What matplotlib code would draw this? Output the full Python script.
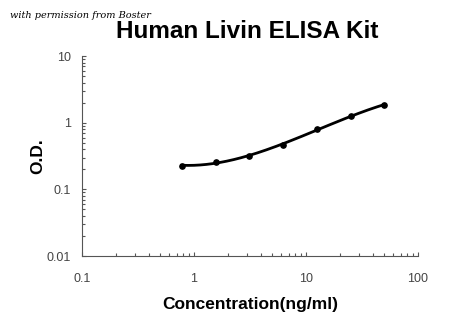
import numpy as np
import matplotlib
matplotlib.use("Agg")
import matplotlib.pyplot as plt
from matplotlib.ticker import LogLocator, FixedLocator, NullFormatter

conc = [0.78, 1.56, 3.125, 6.25, 12.5, 25, 50]
od = [0.226, 0.26, 0.317, 0.468, 0.796, 1.26, 1.86]
x_ticks = [0.1, 1, 10, 100]
x_labels = ["0.1", "1", "10", "100"]
y_ticks = [0.01, 0.1, 1, 10]
y_labels = ["0.01", "0.1", "1", "10"]

plt.rcParams['font.family'] = ['Liberation Sans', 'DejaVu Sans']

fig = plt.figure(figsize=(4.5, 3.3), dpi=100)
ax = fig.add_axes([0.182, 0.224, 0.747, 0.606])
ax.set_xscale('log')
ax.set_yscale('log')
ax.set_xlim(0.1, 100)
ax.set_ylim(0.01, 10)

# smooth fitted curve in log-log space
lx = np.log10(conc)
ly = np.log10(od)
coef = np.polyfit(lx, ly, 3)
xs = np.linspace(lx[0], lx[-1], 200)
ax.plot(10**xs, 10**np.polyval(coef, xs), color='black', lw=2.0)
ax.plot(conc, od, 'o', color='black', ms=3.8)

ax.spines['top'].set_visible(False)
ax.spines['right'].set_visible(False)
for s in ['left', 'bottom']:
    ax.spines[s].set_color('#555555')
    ax.spines[s].set_linewidth(0.8)

ax.xaxis.set_major_locator(FixedLocator(x_ticks))
ax.set_xticklabels(x_labels)
ax.yaxis.set_major_locator(FixedLocator(y_ticks))
ax.set_yticklabels(y_labels)
ax.xaxis.set_minor_locator(LogLocator(base=10, subs=np.arange(2, 10)))
ax.yaxis.set_minor_locator(LogLocator(base=10, subs=np.arange(2, 10)))
ax.xaxis.set_minor_formatter(NullFormatter())
ax.yaxis.set_minor_formatter(NullFormatter())
ax.tick_params(which='both', direction='in', color='#555555', width=0.8,
               labelsize=9, labelcolor='#444444')
ax.tick_params(which='major', length=3)
ax.tick_params(which='minor', length=2)
ax.tick_params(axis='x', pad=12)
ax.tick_params(axis='y', pad=8)

ax.set_xlabel("Concentration(ng/ml)", fontsize=12.5, fontweight='bold', labelpad=9)
ax.set_ylabel("O.D.", fontsize=12.5, fontweight='bold', labelpad=1)

fig.text(0.549, 0.905, "Human Livin ELISA Kit", ha='center', va='center',
         fontsize=17.5, fontweight='bold')
fig.text(0.022, 0.952, "with permission from Boster", ha='left', va='center',
         fontsize=7, style='italic', family=['DejaVu Serif'])

fig.savefig("out.png", dpi=100)
